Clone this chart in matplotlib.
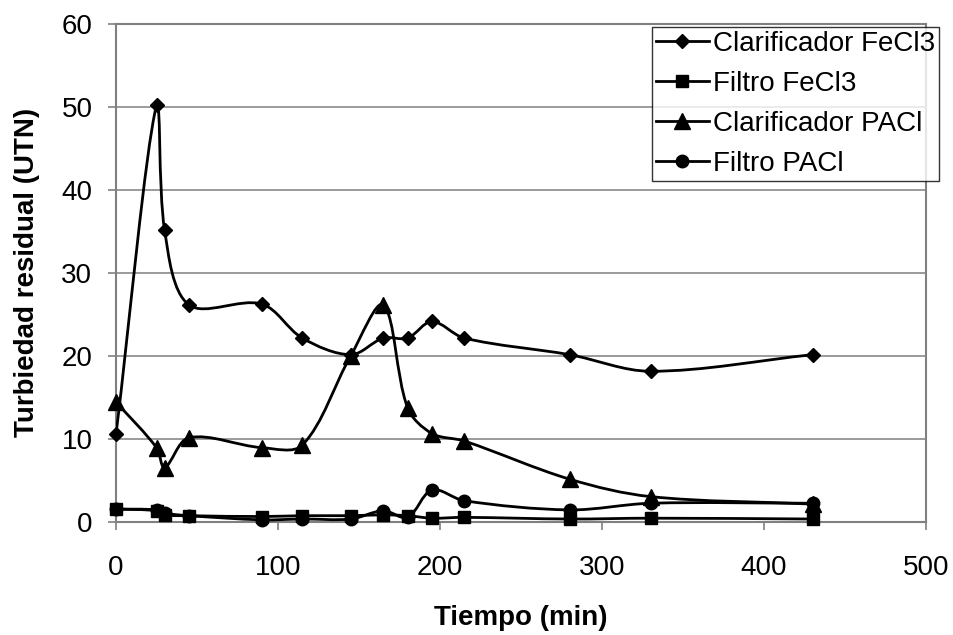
import numpy as np
import matplotlib

matplotlib.use("Agg")
import matplotlib.pyplot as plt
from matplotlib.path import Path
from matplotlib.patches import PathPatch
from matplotlib.lines import Line2D

# data
tiempo = [0, 25, 30, 45, 90, 115, 145, 165, 180, 195, 215, 280, 330, 430]
clarif_fecl3 = [10.5, 50.2, 35.1, 26.1, 26.2, 22.1, 20.1, 22.1, 22.1, 24.1, 22.1, 20.1, 18.1, 20.1]
filtro_fecl3 = [1.5, 1.3, 0.8, 0.7, 0.6, 0.7, 0.7, 0.8, 0.7, 0.4, 0.5, 0.3, 0.4, 0.3]
clarif_pacl = [14.4, 8.9, 6.5, 10.1, 8.9, 9.2, 20.0, 26.1, 13.7, 10.6, 9.7, 5.1, 3.0, 2.1]
filtro_pacl = [1.5, 1.4, 1.0, 0.7, 0.2, 0.3, 0.3, 1.3, 0.5, 3.8, 2.5, 1.4, 2.2, 2.2]

series = [
    ("Clarificador FeCl3", clarif_fecl3, "D", 7.6),
    ("Filtro FeCl3", filtro_fecl3, "s", 9.0),
    ("Clarificador PACl", clarif_pacl, "^", 11.0),
    ("Filtro PACl", filtro_pacl, "o", 9.0),
]

XMAX, YMAX = 500, 60

plt.rcParams["font.family"] = ["Liberation Sans", "DejaVu Sans"]
GRAY = "#808080"


def smooth_path(xs, ys, sx, sy, t=1 / 3):
    """Excel-like smoothed line: cubic Bezier through the points,
    tangents computed in screen-like (scaled) space."""
    P = np.column_stack([np.asarray(xs, float) * sx, np.asarray(ys, float) * sy])
    n = len(P)
    verts = [P[0]]
    codes = [Path.MOVETO]
    for i in range(n - 1):
        p0 = P[i - 1] if i > 0 else P[i]
        p1, p2 = P[i], P[i + 1]
        p3 = P[i + 2] if i + 2 < n else P[i + 1]
        d01 = np.hypot(*(p1 - p0))
        d12 = np.hypot(*(p2 - p1))
        d23 = np.hypot(*(p3 - p2))
        c1 = p1 + (p2 - p0) * t * d12 / (d01 + d12)
        c2 = p2 - (p3 - p1) * t * d12 / (d12 + d23)
        verts += [c1, c2, p2]
        codes += [Path.CURVE4] * 3
    V = np.array(verts)
    V[:, 0] /= sx
    V[:, 1] /= sy
    return Path(V, codes)


fig = plt.figure(figsize=(9.54, 6.35), dpi=100)
ax = fig.add_axes([116 / 954, 1 - 521.5 / 635, 810 / 954, 498 / 635])
ax.set_xlim(0, XMAX)
ax.set_ylim(0, YMAX)

# pixels per data unit, for the smoothing
sx = 810 / XMAX
sy = 498 / YMAX

for label, ys, marker, ms in series:
    patch = PathPatch(smooth_path(tiempo, ys, sx, sy), fill=False,
                      edgecolor="black", linewidth=2.0, zorder=3)
    ax.add_patch(patch)
    ax.plot(tiempo, ys, linestyle="none", marker=marker, markersize=ms,
            color="black", zorder=4, clip_on=False)

ax.set_xticks(np.arange(0, 501, 100))
ax.set_yticks(np.arange(0, 61, 10))
ax.yaxis.grid(True, color=GRAY, linewidth=1.1)
ax.set_axisbelow(True)
for sp in ax.spines.values():
    sp.set_color(GRAY)
    sp.set_linewidth(1.5)
ax.tick_params(axis="both", direction="out", length=6, width=1.2, color=GRAY,
               labelsize=20)
ax.tick_params(axis="x", pad=18)
ax.tick_params(axis="y", pad=11)

fig.text(521 / 954, 1 - 625 / 635, "Tiempo (min)", ha="center", va="baseline",
         fontsize=20, fontweight="bold")
fig.text(27 / 954, 1 - 272 / 635, "Turbiedad residual (UTN)", ha="center",
         va="center", rotation=90, fontsize=20, fontweight="bold")

handles = [Line2D([], [], color="black", linewidth=2.0, marker=m, markersize=ms)
           for _, _, m, ms in series]
leg = ax.legend(handles, [s[0] for s in series], loc="upper right",
                bbox_to_anchor=(939 / 954, 1 - 27 / 635),
                bbox_transform=fig.transFigure, borderaxespad=0, fontsize=20,
                numpoints=1, handlelength=1.9, handletextpad=0.15,
                labelspacing=0.5, borderpad=0.15, frameon=True, fancybox=False)
leg.get_frame().set_edgecolor("black")
leg.get_frame().set_linewidth(1.0)
leg.set_zorder(10)

fig.savefig("out.png", dpi=100)
